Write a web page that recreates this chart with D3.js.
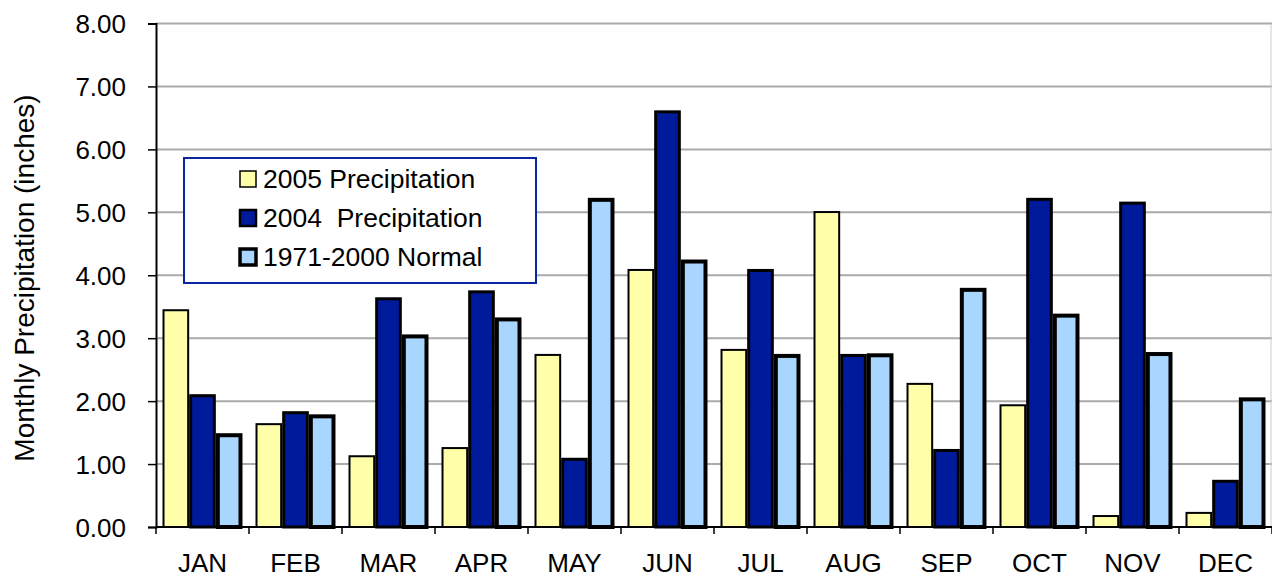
<!DOCTYPE html>
<html>
<head>
<meta charset="utf-8">
<script src="https://cdn.jsdelivr.net/npm/d3@7"></script>
<style>
  body { margin: 0; background: #fff; }
  text { font-family: Arial, "Liberation Sans", sans-serif; fill: #000; }
</style>
</head>
<body>
<svg id="chart" width="1272" height="578"></svg>
<script>
    'use strict';

    var months = ["JAN", "FEB", "MAR", "APR", "MAY", "JUN", "JUL", "AUG", "SEP", "OCT", "NOV", "DEC"];
    var precip2005 = [3.46, 1.65, 1.14, 1.27, 2.75, 4.10, 2.83, 5.02, 2.29, 1.95, 0.19, 0.24];
    var precip2004 = [2.11, 1.84, 3.65, 3.76, 1.10, 6.62, 4.10, 2.75, 1.24, 5.23, 5.17, 0.75];
    var normal = [1.49, 1.79, 3.06, 3.33, 5.23, 4.25, 2.75, 2.76, 3.80, 3.39, 2.78, 2.06];
    var seriesNames = ["2005 Precipitation", "2004  Precipitation", "1971-2000 Normal"];
    var yTicks = [0, 1, 2, 3, 4, 5, 6, 7, 8];

    var series = [
        { name: seriesNames[0], values: precip2005, fill: "#ffffaa", stroke: 2 },
        { name: seriesNames[1], values: precip2004, fill: "#001a9c", stroke: 3 },
        { name: seriesNames[2], values: normal, fill: "#a9d6ff", stroke: 4 }
    ];

    var margin = { top: 23.5, left: 156, bottom: 51, right: 0 };
    var width = 1272 - margin.left - margin.right;
    var height = 578 - margin.top - margin.bottom;

    var svg = d3.select("#chart");
    var g = svg.append("g").attr("transform", "translate(" + margin.left + "," + margin.top + ")");

    var x = d3.scaleBand().domain(months).range([0, width]).paddingInner(0.14).paddingOuter(0.07);
    var xOuter = d3.scaleBand().domain(months).range([0, width]);
    var x1 = d3.scaleBand().domain([0, 1, 2]).range([0, x.bandwidth()]);
    var y = d3.scaleLinear().domain([0, 8]).range([height, 0]);

    // gridlines
    g.append("g").selectAll("line").data(yTicks.slice(1)).enter().append("line")
        .attr("x1", 0).attr("x2", width)
        .attr("y1", function(d) { return y(d); })
        .attr("y2", function(d) { return y(d); })
        .attr("stroke", "#aaaaaa").attr("stroke-width", 2);

    // right plot edge
    g.append("line").attr("x1", width - 1).attr("x2", width - 1)
        .attr("y1", 0).attr("y2", height).attr("stroke", "#cccccc").attr("stroke-width", 1);

    // bars
    series.forEach(function(s, si) {
        g.append("g").selectAll("rect").data(s.values).enter().append("rect")
            .attr("x", function(d, i) { return x(months[i]) + x1(si) + s.stroke / 2; })
            .attr("width", x1.bandwidth() - s.stroke)
            .attr("y", function(d) { return y(d) + s.stroke / 2; })
            .attr("height", function(d) { return Math.max(0, height - y(d) - s.stroke / 2); })
            .attr("fill", s.fill)
            .attr("stroke", "#000")
            .attr("stroke-width", s.stroke);
    });

    // y axis
    var yAxis = d3.axisLeft(y).tickValues(yTicks).tickFormat(d3.format(".2f")).tickSize(8).tickPadding(22);
    var yg = g.append("g").call(yAxis);
    yg.select(".domain").attr("stroke", "#000").attr("stroke-width", 2);
    yg.selectAll(".tick line").attr("stroke", "#000").attr("stroke-width", 1.5);
    yg.selectAll("text").style("font-size", "26px").attr("dy", "0.35em");

    // x axis
    var xg = g.append("g").attr("transform", "translate(0," + height + ")");
    xg.append("line").attr("x1", 0).attr("x2", width).attr("stroke", "#000").attr("stroke-width", 2);
    xg.selectAll(".xt").data(months.concat(["END"])).enter().append("line")
        .attr("x1", function(d, i) { return i * xOuter.step(); })
        .attr("x2", function(d, i) { return i * xOuter.step(); })
        .attr("y1", 0).attr("y2", 7)
        .attr("stroke", "#000").attr("stroke-width", 1.5);
    xg.selectAll(".xl").data(months).enter().append("text")
        .attr("x", function(d) { return xOuter(d) + xOuter.bandwidth() / 2; })
        .attr("y", 45)
        .attr("text-anchor", "middle")
        .style("font-size", "26px")
        .text(function(d) { return d; });

    // y label
    svg.append("text")
        .attr("transform", "translate(34," + 278 + ") rotate(-90)")
        .attr("text-anchor", "middle")
        .style("font-size", "28px")
        .text("Monthly Precipitation (inches)");

    // legend
    var lg = svg.append("g").attr("transform", "translate(184,158)");
    lg.append("rect").attr("width", 352).attr("height", 125)
        .attr("fill", "#fff").attr("stroke", "#0a23a0").attr("stroke-width", 2);
    var items = lg.selectAll(".li").data(series).enter().append("g")
        .attr("transform", function(d, i) { return "translate(56," + (21 + i * 39) + ")"; });
    items.append("rect").attr("x", 0).attr("y", -8).attr("width", 16).attr("height", 16)
        .attr("fill", function(d) { return d.fill; })
        .attr("stroke", "#000").attr("stroke-width", function(d) { return d.stroke - 0.5; });
    items.append("text").attr("x", 23).attr("y", 0).attr("dy", "0.35em")
        .style("font-size", "26.5px").style("white-space", "pre")
        .attr("xml:space", "preserve")
        .text(function(d) { return d.name; });
</script>
</body>
</html>
